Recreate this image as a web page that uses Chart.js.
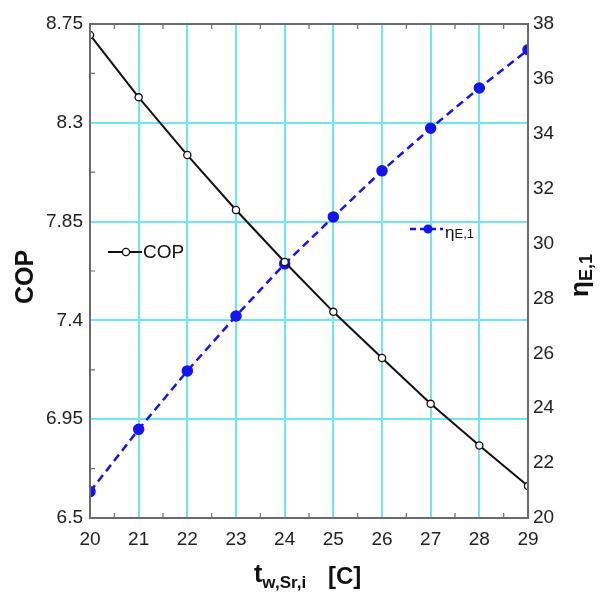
<!DOCTYPE html>
<html>
<head>
<meta charset="utf-8">
<title>COP and ηE,1 vs water temperature</title>
<script src="https://cdn.jsdelivr.net/npm/chart.js@4/dist/chart.umd.min.js"></script>
<style>
  html, body { margin: 0; padding: 0; background: #fff; }
  #wrap { width: 602px; height: 593px; }
</style>
</head>
<body>
<div id="wrap"><canvas id="chart" width="602" height="593"></canvas></div>
<script>
// water temperature t_w,Sr,i [C]
const temps = [20, 21, 22, 23, 24, 25, 26, 27, 28, 29]
const copValues = [8.70, 8.416, 8.153, 7.903, 7.666, 7.439, 7.229, 7.02, 6.83, 6.646]
const etaValues = [20.96, 23.23, 25.36, 27.36, 29.26, 30.97, 32.65, 34.2, 35.67, 37.06]

const copTicks = [6.5, 6.95, 7.4, 7.85, 8.3, 8.75]
const etaTicks = [20, 22, 24, 26, 28, 30, 32, 34, 36, 38]

const fontFamily = "'Liberation Sans', Arial, Helvetica, sans-serif"
const gridColor = "rgb(110, 232, 240)"
const frameColor = "#6b6b6b"
const etaBlue = "rgb(20, 20, 240)"

// draws a string followed by a smaller subscript, returns end x
function drawSub(ctx, x, y, main, sub, mainFont, subFont, drop) {
    ctx.font = mainFont
    ctx.fillText(main, x, y)
    x += ctx.measureText(main).width
    ctx.font = subFont
    ctx.fillText(sub, x, y + drop)
    return x + ctx.measureText(sub).width
}

const decorations = {
    id: "decorations",
    afterDraw(chart) {
        const ctx = chart.ctx
        const area = chart.chartArea
        const xs = chart.scales.x
        const yl = chart.scales.yCop

        ctx.save()

        // frame
        ctx.strokeStyle = frameColor
        ctx.lineWidth = 2
        ctx.strokeRect(area.left, area.top, area.right - area.left, area.bottom - area.top)

        // minor ticks pointing inward
        ctx.lineWidth = 1.2
        ctx.beginPath()
        for (let i = 0; i < temps.length - 1; i++) {
            const px = xs.getPixelForValue(temps[i] + 0.5)
            ctx.moveTo(px, area.bottom); ctx.lineTo(px, area.bottom - 5)
            ctx.moveTo(px, area.top); ctx.lineTo(px, area.top + 5)
        }
        for (let i = 0; i < copTicks.length - 1; i++) {
            const py = yl.getPixelForValue((copTicks[i] + copTicks[i + 1]) / 2)
            ctx.moveTo(area.left, py); ctx.lineTo(area.left + 5, py)
        }
        ctx.stroke()

        ctx.fillStyle = "#111"
        ctx.textBaseline = "alphabetic"

        // left axis title
        ctx.save()
        ctx.translate(33, 277)
        ctx.rotate(-Math.PI / 2)
        ctx.textAlign = "center"
        ctx.font = "bold 25px " + fontFamily
        ctx.fillText("COP", 0, 0)
        ctx.restore()

        // right axis title
        ctx.save()
        ctx.translate(588, 297)
        ctx.rotate(-Math.PI / 2)
        ctx.textAlign = "left"
        drawSub(ctx, 0, 0, "η", "E,1", "bold 26px " + fontFamily, "bold 18px " + fontFamily, 4)
        ctx.restore()

        // bottom axis title
        ctx.textAlign = "left"
        drawSub(ctx, 254, 582, "t", "w,Sr,i", "bold 25px " + fontFamily, "bold 17px " + fontFamily, 6)
        ctx.font = "bold 24px " + fontFamily
        ctx.fillText("[C]", 328, 584)

        // COP legend entry
        ctx.strokeStyle = "#111"
        ctx.lineWidth = 2
        ctx.setLineDash([])
        ctx.beginPath(); ctx.moveTo(108, 252); ctx.lineTo(142, 252); ctx.stroke()
        ctx.fillStyle = "#fff"
        ctx.lineWidth = 1.3
        ctx.beginPath(); ctx.arc(126, 252, 3.6, 0, Math.PI * 2); ctx.fill(); ctx.stroke()
        ctx.fillStyle = "#111"
        ctx.font = "19px " + fontFamily
        ctx.textBaseline = "middle"
        ctx.fillText("COP", 143, 253)

        // eta legend entry
        ctx.strokeStyle = etaBlue
        ctx.lineWidth = 2.5
        ctx.setLineDash([6, 4])
        ctx.beginPath(); ctx.moveTo(410, 229); ctx.lineTo(443, 229); ctx.stroke()
        ctx.setLineDash([])
        ctx.fillStyle = etaBlue
        ctx.beginPath(); ctx.arc(428, 229, 4.5, 0, Math.PI * 2); ctx.fill()
        ctx.fillStyle = "#111"
        ctx.textBaseline = "alphabetic"
        drawSub(ctx, 445, 238, "η", "E,1", "17px " + fontFamily, "13px " + fontFamily, 0)

        ctx.restore()
    }
}

const tickFont = { family: fontFamily, size: 19 }

new Chart(document.getElementById("chart"), {
    type: "line",
    data: {
        labels: temps,
        datasets: [{
            label: "COP",
            data: temps.map((t, i) => ({ x: t, y: copValues[i] })),
            yAxisID: "yCop",
            borderColor: "#111",
            borderWidth: 2,
            pointBackgroundColor: "#fff",
            pointBorderColor: "#111",
            pointBorderWidth: 1.3,
            pointRadius: 3.6,
            tension: 0
        }, {
            label: "ηE,1",
            data: temps.map((t, i) => ({ x: t, y: etaValues[i] })),
            yAxisID: "yEta",
            borderColor: etaBlue,
            borderWidth: 2.5,
            borderDash: [8, 5],
            pointBackgroundColor: etaBlue,
            pointBorderColor: etaBlue,
            pointRadius: 4.5,
            tension: 0
        }]
    },
    options: {
        responsive: false,
        animation: false,
        events: [],
        layout: { padding: { top: 24, left: 0, right: 0, bottom: 0 } },
        plugins: {
            legend: { display: false },
            tooltip: { enabled: false }
        },
        scales: {
            x: {
                type: "linear",
                min: temps[0],
                max: temps[temps.length - 1],
                afterBuildTicks: axis => { axis.ticks = temps.map(v => ({ value: v })) },
                afterFit: axis => { axis.height = 75 },
                grid: { color: gridColor, lineWidth: 2, drawTicks: false },
                border: { display: false },
                ticks: { color: "#222", font: tickFont, padding: 10, maxRotation: 0 }
            },
            yCop: {
                type: "linear",
                position: "left",
                min: copTicks[0],
                max: copTicks[copTicks.length - 1],
                afterBuildTicks: axis => { axis.ticks = copTicks.map(v => ({ value: v })) },
                afterFit: axis => { axis.width = 90 },
                grid: { color: gridColor, lineWidth: 2, drawTicks: false },
                border: { display: false },
                ticks: {
                    color: "#222",
                    font: tickFont,
                    padding: 7,
                    callback: v => String(Number(v.toFixed(2)))
                }
            },
            yEta: {
                type: "linear",
                position: "right",
                min: etaTicks[0],
                max: etaTicks[etaTicks.length - 1],
                afterBuildTicks: axis => { axis.ticks = etaTicks.map(v => ({ value: v })) },
                afterFit: axis => { axis.width = 74 },
                grid: { drawOnChartArea: false, drawTicks: false },
                border: { display: false },
                ticks: { color: "#222", font: tickFont, padding: 5 }
            }
        }
    },
    plugins: [decorations]
})
</script>
</body>
</html>
